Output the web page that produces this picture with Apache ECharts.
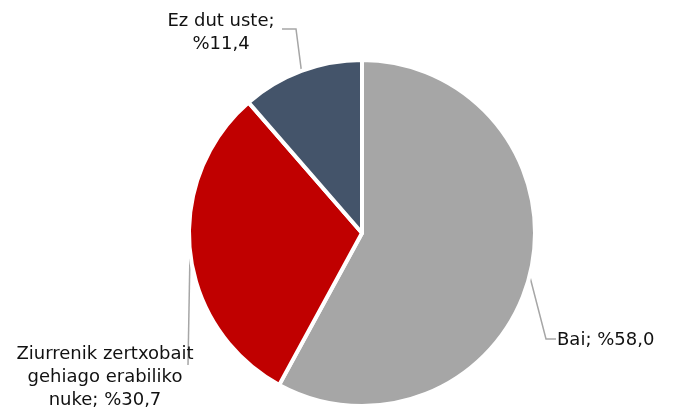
<!DOCTYPE html>
<html>
<head>
<meta charset="utf-8">
<style>
  html, body { margin: 0; padding: 0; background: #fff; }
  #chart { width: 673px; height: 408px; }
</style>
<script src="https://cdn.jsdelivr.net/npm/echarts@6/dist/echarts.min.js"></script>
</head>
<body>
<div id="chart"></div>
<script>
// datuak
var categories = ['Bai', 'Ziurrenik zertxobait\ngehiago erabiliko\nnuke', 'Ez dut uste'];
var values = [58.0, 30.7, 11.4];
var colors = ['#A6A6A6', '#C00000', '#44546A'];
var separators = [' ', ' ', '\n'];

// etiketen kokapena (x, y, align) eta lerroen puntuak
var labelPos = [
    {x: 557, y: 340, align: 'left', line: [[546, 339], [556, 339]]},
    {x: 105, y: 377, align: 'center', line: [[188, 365]]},
    {x: 221, y: 33, align: 'center', line: [[296, 29], [282, 29]]}
];

var chart = echarts.init(document.getElementById('chart'));

chart.setOption({
    animation: false,
    series: [{
        type: 'pie',
        center: [362, 233],
        radius: 173,
        startAngle: 90,
        clockwise: true,
        itemStyle: {
            borderColor: '#fff',
            borderWidth: 4
        },
        label: {
            show: true,
            fontFamily: '"DejaVu Sans", Verdana, sans-serif',
            fontSize: 18,
            lineHeight: 23,
            color: '#111',
            align: 'center',
            overflow: 'none',
            formatter: function (p) {
                return categories[p.dataIndex] + ';' + separators[p.dataIndex] + '%' +
                    values[p.dataIndex].toFixed(1).replace('.', ',');
            }
        },
        labelLine: {
            show: true,
            lineStyle: { color: '#A6A6A6', width: 1.5 }
        },
        labelLayout: function (params) {
            var pos = labelPos[params.dataIndex];
            var first = params.labelLinePoints ? params.labelLinePoints[0] : null;
            var pts = first ? [first].concat(pos.line) : undefined;
            return {
                x: pos.x,
                y: pos.y,
                align: pos.align,
                verticalAlign: 'middle',
                labelLinePoints: pts
            };
        },
        data: categories.map(function (c, i) {
            return { name: c, value: values[i], itemStyle: { color: colors[i] } };
        })
    }]
});
</script>
</body>
</html>
